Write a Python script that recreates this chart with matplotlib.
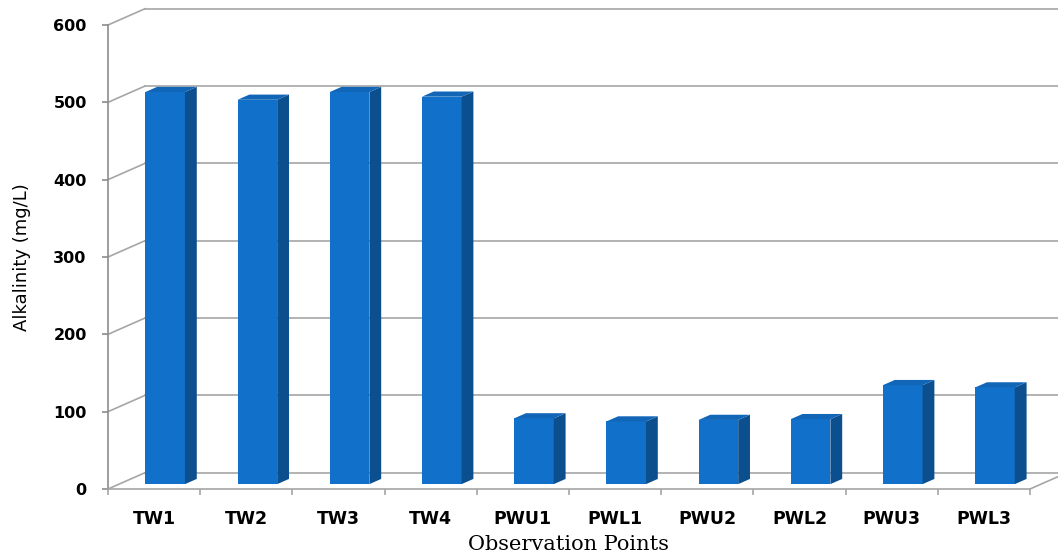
import matplotlib.pyplot as plt
from matplotlib.patches import Polygon


points = ["TW1", "TW2", "TW3", "TW4", "PWU1", "PWL1", "PWU2", "PWL2", "PWU3", "PWL3"]
alkalinity = [507, 497, 507, 501, 85, 81, 83, 84, 128, 125]
y_ticks = [0, 100, 200, 300, 400, 500, 600]

# pseudo-3D box: depth of the back wall in data units
WALL_DX = 0.40
WALL_DY = 21
BAR_SHIFT = 0.30   # where the bar front sits inside the depth
BAR_DEPTH = 0.32
BAR_WIDTH = 0.43

FRONT = "#1170c9"
SIDE = "#0b4f8f"
TOP = "#1266b8"
GRID = "#a6a6a6"


fig = plt.figure(figsize=(10.58, 5.56), dpi=100)
fig.patch.set_facecolor("white")

ax = fig.add_axes([108 / 1058, (556 - 489) / 556, 922 / 1058, 464 / 556])
ax.set_xlim(-0.5, len(points) - 0.5)
ax.set_ylim(0, 600)

for side in ["top", "right"]:
    ax.spines[side].set_visible(False)
ax.spines["left"].set_color("#8c8c8c")
ax.spines["bottom"].set_color(GRID)
ax.spines["left"].set_linewidth(1.2)
ax.spines["bottom"].set_linewidth(1.2)

# side wall diagonals and back wall gridlines
x_left = -0.5
x_right = len(points) - 0.5
for v in y_ticks:
    ax.plot(
        [x_left, x_left + WALL_DX],
        [v, v + WALL_DY],
        color=GRID,
        lw=1.2,
        clip_on=False,
        zorder=1,
    )
    ax.plot(
        [x_left + WALL_DX, x_right + WALL_DX],
        [v + WALL_DY, v + WALL_DY],
        color=GRID,
        lw=1.2,
        clip_on=False,
        zorder=1,
    )

# right edge of the floor
ax.plot(
    [x_right, x_right + WALL_DX],
    [0, WALL_DY],
    color=GRID,
    lw=1.2,
    clip_on=False,
    zorder=1,
)

# bars: front face from ax.bar, side and top faces as polygons
x = list(range(len(points)))
bar_x = [i + BAR_SHIFT * WALL_DX for i in x]
base = BAR_SHIFT * WALL_DY

bars = ax.bar(
    bar_x,
    alkalinity,
    width=BAR_WIDTH,
    bottom=base,
    color=FRONT,
    zorder=3,
    clip_on=False,
)

ddx = BAR_DEPTH * WALL_DX
ddy = BAR_DEPTH * WALL_DY
for rect in bars:
    x0 = rect.get_x()
    x1 = x0 + rect.get_width()
    y0 = rect.get_y()
    y1 = y0 + rect.get_height()

    side_face = Polygon(
        [(x1, y0), (x1 + ddx, y0 + ddy), (x1 + ddx, y1 + ddy), (x1, y1)],
        closed=True,
        facecolor=SIDE,
        edgecolor="none",
        zorder=3,
        clip_on=False,
    )
    top_face = Polygon(
        [(x0, y1), (x0 + ddx, y1 + ddy), (x1 + ddx, y1 + ddy), (x1, y1)],
        closed=True,
        facecolor=TOP,
        edgecolor="none",
        zorder=3,
        clip_on=False,
    )
    ax.add_patch(side_face)
    ax.add_patch(top_face)

# ticks
ax.set_yticks(y_ticks)
ax.set_yticklabels([str(v) for v in y_ticks], fontsize=11.5, fontweight="bold")
ax.tick_params(axis="y", length=4.3, width=1.2, color="#8c8c8c", pad=11)

ax.set_xticks(x)
ax.set_xticklabels(points, fontsize=12.5, fontweight="bold")
ax.set_xticks([i - 0.5 for i in range(len(points) + 1)], minor=True)
ax.tick_params(axis="x", which="major", length=0, pad=15)
ax.tick_params(axis="x", which="minor", length=4, width=1.2, color=GRID)

fig.text(
    22 / 1058,
    1 - 257 / 556,
    "Alkalinity (mg/L)",
    rotation=90,
    ha="center",
    va="center",
    fontsize=13,
    family=["Liberation Sans Narrow", "DejaVu Sans"],
)

fig.text(
    568 / 1058,
    1 - 544 / 556,
    "Observation Points",
    ha="center",
    va="center",
    fontsize=15,
    family=["DejaVu Serif"],
)

fig.savefig("out.png", dpi=100, facecolor="white")
plt.close(fig)
